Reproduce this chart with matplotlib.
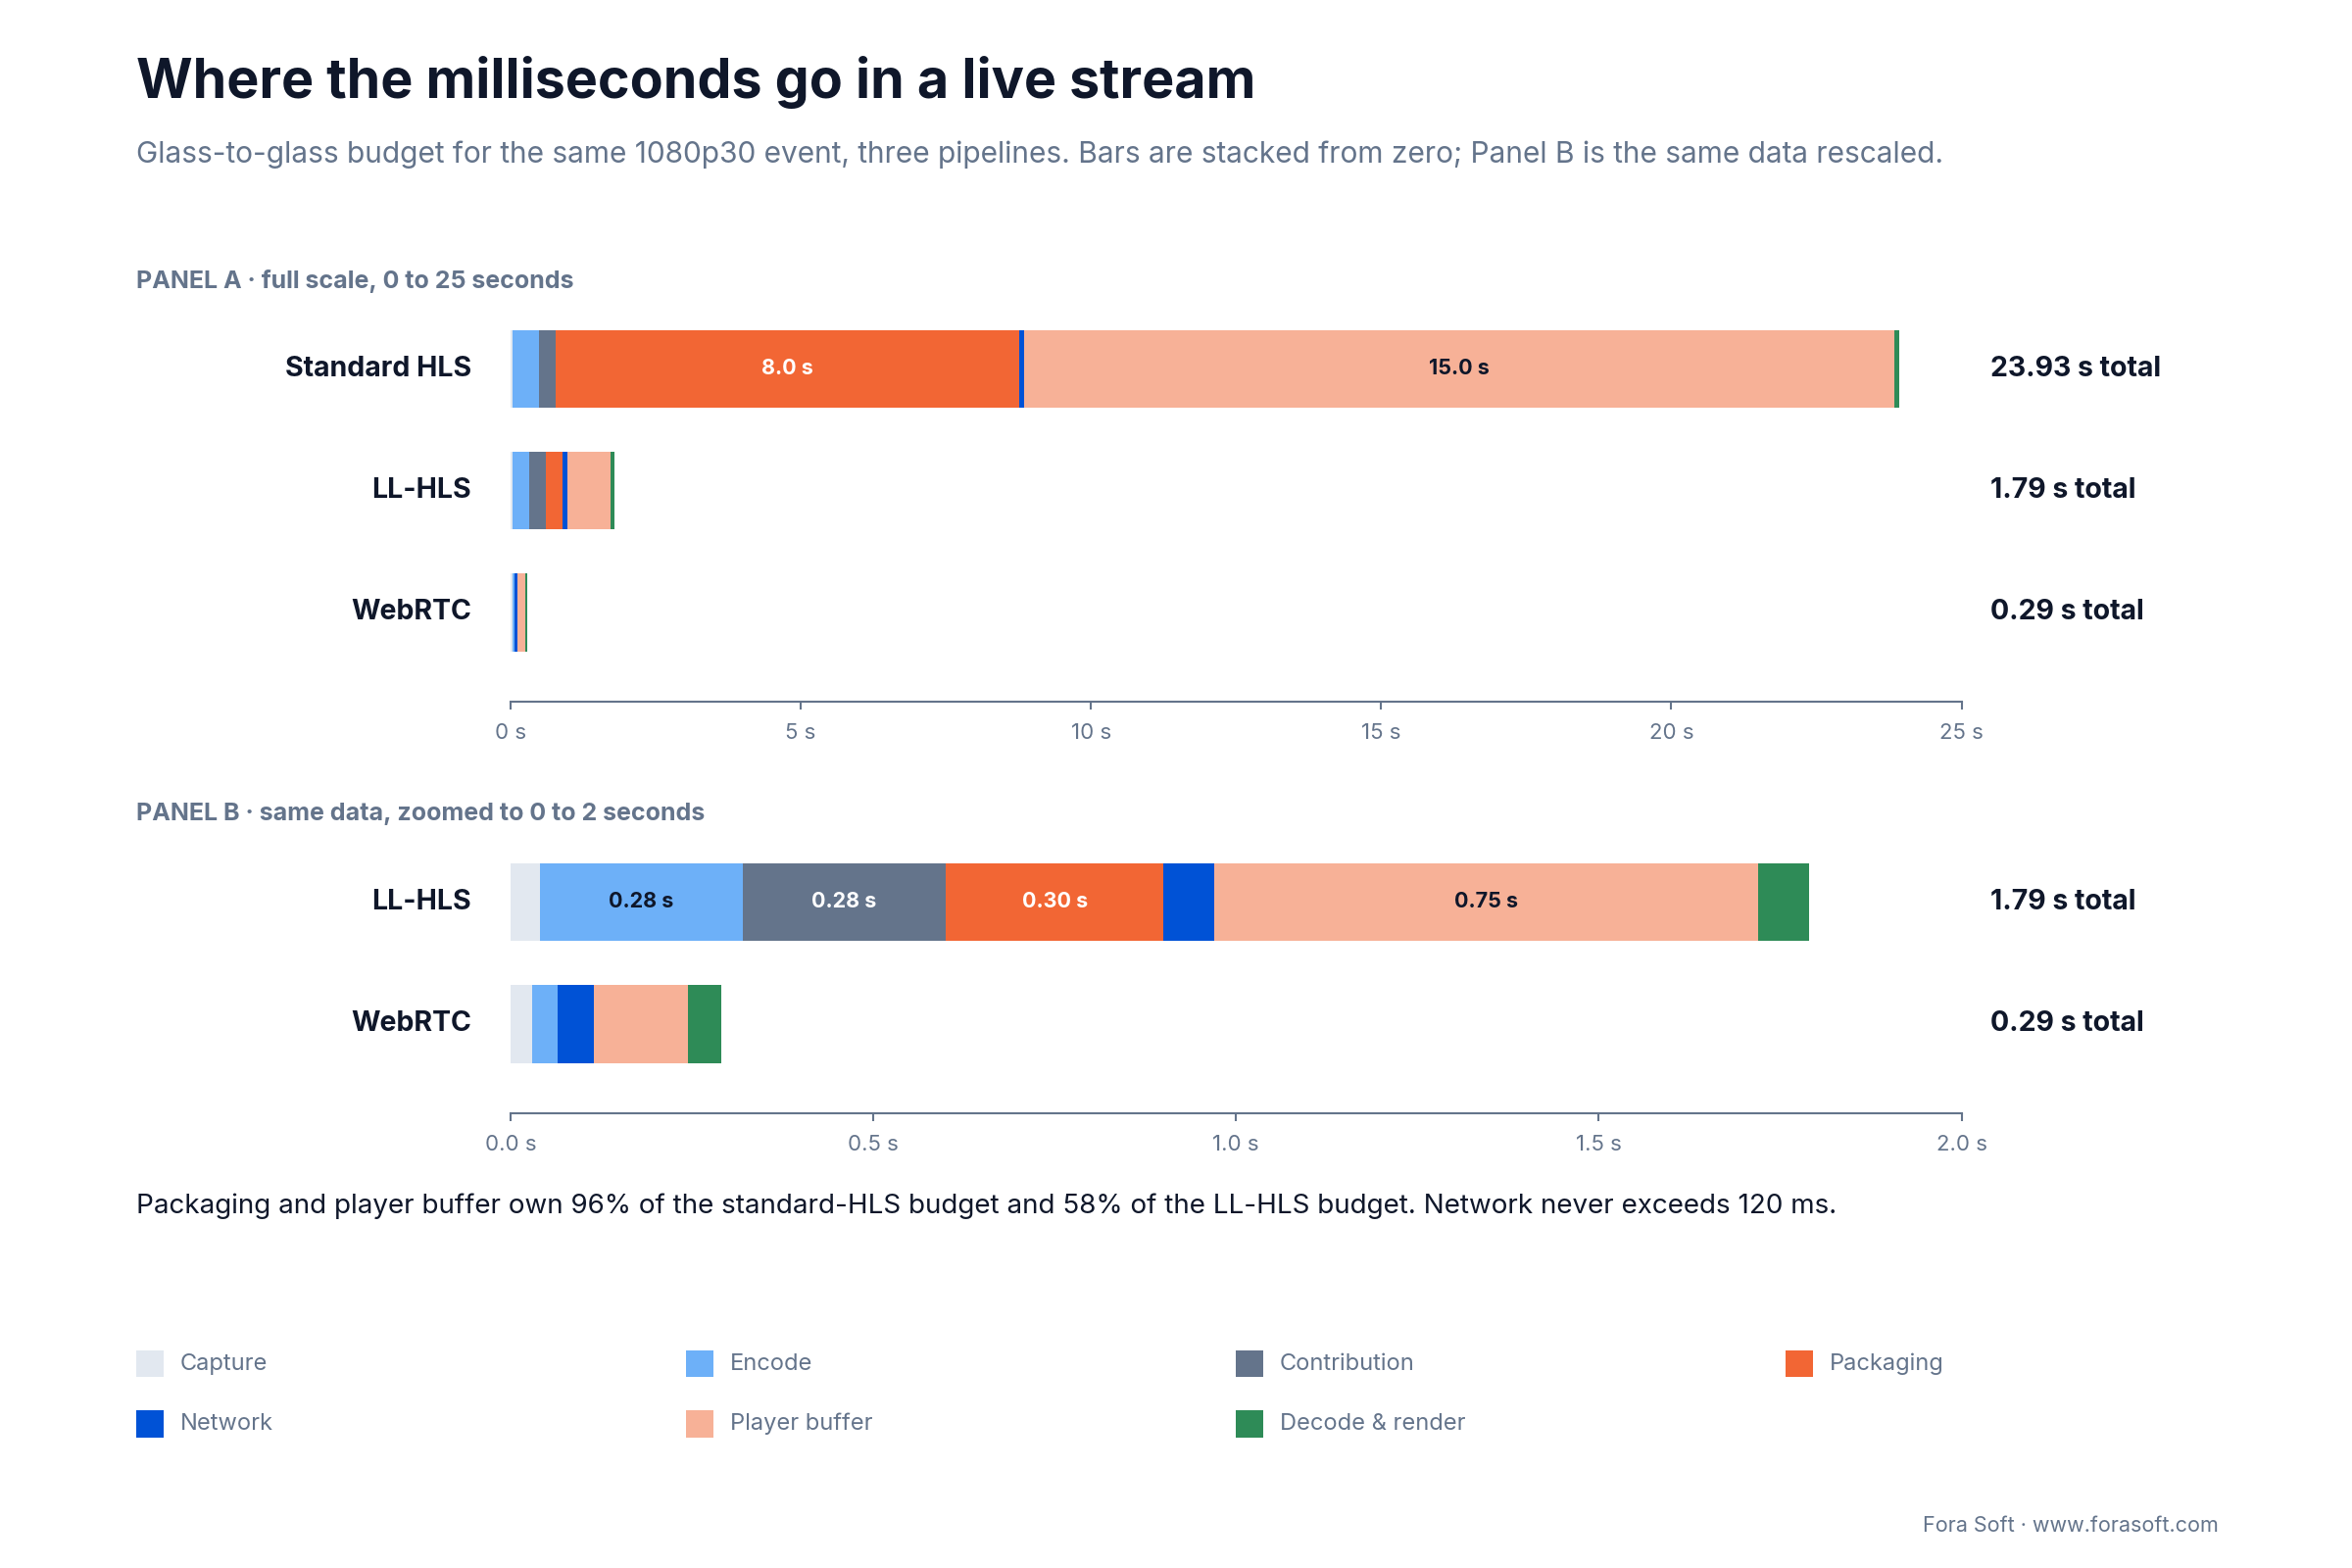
import matplotlib
matplotlib.use("Agg")
import matplotlib.pyplot as plt
from matplotlib.patches import Rectangle

plt.rcParams['font.family'] = ['Inter', 'DejaVu Sans']

# data
stages = ['Capture', 'Encode', 'Contribution', 'Packaging', 'Network', 'Player buffer', 'Decode & render']
colors = ['#e2e8f0', '#6db0f8', '#64748b', '#f26634', '#0052d6', '#f7b197', '#2e8b57']
label_colors = ['#0f172a', '#0f172a', 'white', 'white', 'white', '#0f172a', 'white']
pipelines = ['Standard HLS', 'LL-HLS', 'WebRTC']
std_hls = [0.04, 0.45, 0.28, 8.0, 0.08, 15.0, 0.08]
ll_hls = [0.04, 0.28, 0.28, 0.30, 0.07, 0.75, 0.07]
webrtc = [0.03, 0.035, 0.0, 0.0, 0.05, 0.13, 0.045]
totals = ['23.93 s total', '1.79 s total', '0.29 s total']
ticks_a = [0, 5, 10, 15, 20, 25]
ticks_b = [0.0, 0.5, 1.0, 1.5, 2.0]

DARK = '#0f172a'
GREY = '#64748b'
W, H = 1566.0, 1044.0

fig = plt.figure(figsize=(24, 16), dpi=100)

def fx(px): return px / W
def fy(py): return 1 - py / H

fig.text(fx(91), fy(55), 'Where the milliseconds go in a live stream', fontsize=40,
         fontweight='bold', color=DARK, va='center')
fig.text(fx(91), fy(103), 'Glass-to-glass budget for the same 1080p30 event, three pipelines. '
         'Bars are stacked from zero; Panel B is the same data rescaled.',
         fontsize=21.5, color=GREY, va='center')

def panel(top, bottom, rows, names, tot, xmax, ticks, fmt, title):
    ax = fig.add_axes([fx(340), fy(bottom), fx(1306) - fx(340), (bottom - top) / H])
    n = len(rows)
    ax.set_xlim(0, xmax)
    ax.set_ylim(n - 1 + 0.73, -0.5)
    for i, vals in enumerate(rows):
        left = 0
        for j, v in enumerate(vals):
            if v <= 0:
                continue
            ax.barh(i, v, left=left, height=0.64, color=colors[j], linewidth=0)
            if v / xmax > 0.1:
                ax.text(left + v / 2, i, f'{v:.2f} s' if xmax < 5 else f'{v:.1f} s',
                        ha='center', va='center', fontsize=15.5, fontweight='bold',
                        color=label_colors[j])
            left += v
        ax.text(-0.027 * xmax, i, names[i], ha='right', va='center', fontsize=20.5,
                fontweight='bold', color=DARK)
        ax.text(1.02 * xmax, i, tot[i], ha='left', va='center', fontsize=20.5,
                fontweight='bold', color=DARK)
    for s in ['top', 'right', 'left']:
        ax.spines[s].set_visible(False)
    ax.spines['bottom'].set_color(GREY)
    ax.spines['bottom'].set_linewidth(1.5)
    ax.set_yticks([])
    ax.set_xticks(ticks)
    ax.set_xticklabels([fmt(t) for t in ticks])
    ax.tick_params(axis='x', colors=GREY, labelsize=16, length=6, width=1.5, pad=10)
    fig.text(fx(91), fy(top - 18), title, fontsize=18, fontweight='bold', color=GREY, va='center')
    return ax

panel(205, 467, [std_hls, ll_hls, webrtc], pipelines, totals, 25, ticks_a,
      lambda t: f'{t} s', 'PANEL A · full scale, 0 to 25 seconds')
panel(560, 741, [ll_hls, webrtc], pipelines[1:], totals[1:], 2.0, ticks_b,
      lambda t: f'{t:.1f} s', 'PANEL B · same data, zoomed to 0 to 2 seconds')

fig.text(fx(91), fy(803), 'Packaging and player buffer own 96% of the standard-HLS budget and '
         '58% of the LL-HLS budget. Network never exceeds 120 ms.',
         fontsize=20, color=DARK, va='center')

# legend
cols = [91, 457, 823, 1189]
for k, name in enumerate(stages):
    x = cols[k % 4]
    y = 908 + 40 * (k // 4)
    fig.patches.append(Rectangle((fx(x), fy(y + 9)), fx(18), 18 / H, transform=fig.transFigure,
                                 facecolor=colors[k], edgecolor='none'))
    fig.text(fx(x + 29), fy(y), name, fontsize=17, color=GREY, va='center')

fig.text(fx(1477), fy(1016), 'Fora Soft · www.forasoft.com', fontsize=15.5, color=GREY,
         ha='right', va='center')

fig.savefig('out.png', dpi=100, facecolor='white')
